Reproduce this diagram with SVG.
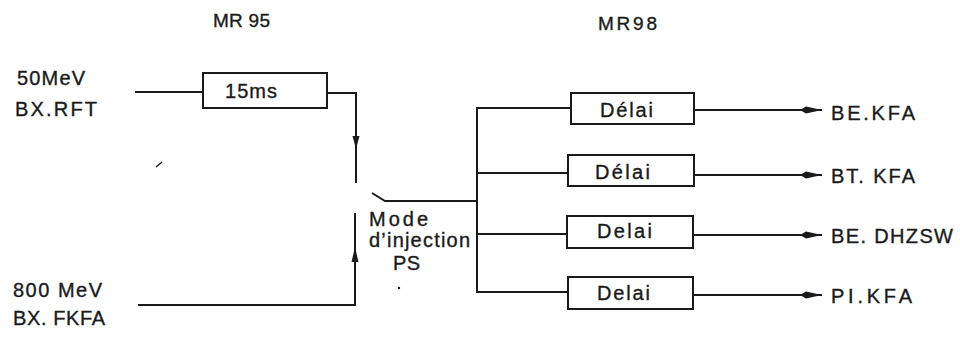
<svg xmlns="http://www.w3.org/2000/svg" width="960" height="338" viewBox="0 0 960 338">
<style>
  text { font-family: "Liberation Sans", "DejaVu Sans", sans-serif; font-size: 20px; fill: #1a1a1a; stroke: #1a1a1a; stroke-width: 0.35; }
  .small { font-size: 19px; }
  .box { fill: #ffffff; stroke: #1a1a1a; stroke-width: 2; }
  .wire { fill: none; stroke: #1a1a1a; stroke-width: 2; }
  .head { fill: #1a1a1a; stroke: none; }
</style>
<defs>
  <marker id="arr" markerUnits="userSpaceOnUse" markerWidth="24" markerHeight="10" refX="22" refY="5" orient="auto">
    <path d="M0,5 L6,1.6 L22,5 L6,8.4 z" fill="#1a1a1a"/>
  </marker>
</defs>
<rect width="960" height="338" fill="#ffffff"/>

<g id="titles">
  <text x="213" y="27" textLength="57" lengthAdjust="spacing" class="small">MR 95</text>
  <text x="598" y="30" textLength="59" lengthAdjust="spacing" class="small">MR98</text>
</g>

<g id="in-50mev">
  <text x="17" y="85" textLength="68" lengthAdjust="spacing">50MeV</text>
  <text x="15" y="116" textLength="82" lengthAdjust="spacing">BX.RFT</text>
</g>

<g id="in-800mev">
  <text x="13" y="297" textLength="89" lengthAdjust="spacing">800 MeV</text>
  <text x="13" y="325" textLength="92" lengthAdjust="spacing">BX. FKFA</text>
</g>

<g id="delay-15ms">
  <rect class="box" x="203" y="73" width="124" height="35"/>
  <text x="225" y="98" textLength="52" lengthAdjust="spacing">15ms</text>
</g>

<g id="mode-injection">
  <text x="369" y="226" textLength="59" lengthAdjust="spacing">Mode</text>
  <text x="369" y="247" textLength="101" lengthAdjust="spacing">d’injection</text>
  <text x="393" y="270" textLength="27" lengthAdjust="spacing">PS</text>
</g>

<g id="delai-1">
  <rect class="box" x="571" y="93" width="123" height="31"/>
  <text x="600" y="117" textLength="53" lengthAdjust="spacing">Délai</text>
</g>
<g id="delai-2">
  <rect class="box" x="568" y="155" width="126" height="31"/>
  <text x="595" y="179" textLength="55" lengthAdjust="spacing">Délai</text>
</g>
<g id="delai-3">
  <rect class="box" x="567" y="216" width="126" height="32"/>
  <text x="597" y="238" textLength="55" lengthAdjust="spacing">Delai</text>
</g>
<g id="delai-4">
  <rect class="box" x="568" y="277" width="125" height="32"/>
  <text x="597" y="300" textLength="53" lengthAdjust="spacing">Delai</text>
</g>

<g id="out-be-kfa">
  <text x="831" y="120" textLength="84" lengthAdjust="spacing">BE.KFA</text>
</g>
<g id="out-bt-kfa">
  <text x="831" y="183" textLength="84" lengthAdjust="spacing">BT. KFA</text>
</g>
<g id="out-be-dhzsw">
  <text x="831" y="243" textLength="122" lengthAdjust="spacing">BE. DHZSW</text>
</g>
<g id="out-pi-kfa">
  <text x="831" y="303" textLength="81" lengthAdjust="spacing">PI.KFA</text>
</g>

<g id="connectors">
  <path class="wire" d="M135,92 H203"/>
  <path class="wire" d="M327,93 H356 V183"/>
  <polygon class="head" points="352.5,136 359.5,136 356,149"/>
  <path class="wire" d="M138,305 H355 V213"/>
  <polygon class="head" points="351.5,262 358.5,262 355,247"/>
  <path class="wire" d="M372,193 L385,201 H477"/>
  <path class="wire" d="M477,108 V292"/>
  <path class="wire" d="M476,108 H571"/>
  <path class="wire" d="M477,173 H568"/>
  <path class="wire" d="M477,234 H567"/>
  <path class="wire" d="M476,292 H568"/>
  <path class="wire" d="M694,110 H822" marker-end="url(#arr)"/>
  <path class="wire" d="M694,175 H822" marker-end="url(#arr)"/>
  <path class="wire" d="M693,235 H822" marker-end="url(#arr)"/>
  <path class="wire" d="M693,295 H822" marker-end="url(#arr)"/>
</g>

<g id="marks">
  <path d="M156,167 L162,162" stroke="#1a1a1a" stroke-width="1.5" fill="none"/>
  <circle cx="399" cy="288" r="1.2" fill="#1a1a1a"/>
</g>
</svg>
